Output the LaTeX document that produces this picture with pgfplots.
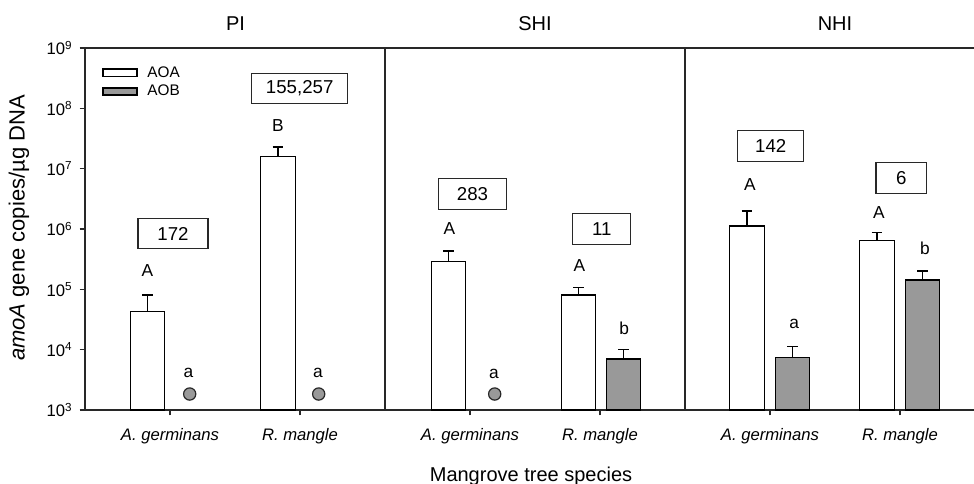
\documentclass[border=0pt]{standalone}
\usepackage{fontspec}
\setmainfont{Liberation Sans}
\usepackage{pgfplots}
\pgfplotsset{compat=1.18}
\definecolor{aobgray}{RGB}{153,153,153}
\definecolor{axgray}{RGB}{40,40,40}
\newcommand{\fs}[1]{\fontsize{#1}{#1}\selectfont}
\begin{document}
\begin{tikzpicture}
\useasboundingbox (0,0) rectangle (730.5pt,363pt);
\begin{axis}[
  at={(63.75pt,55.5pt)}, anchor=south west,
  scale only axis, width=666.75pt, height=271.5pt,
  xmin=0, xmax=8.89,
  ymode=log, ymin=1e3, ymax=1e9, log origin=infty,
  axis x line*=box, axis y line*=left,
  axis line style={line width=1.4pt, axgray},
  clip=false,
  xtick={0.85,2.15,3.85,5.15,6.85,8.15},
  xticklabels={A. germinans, R. mangle, A. germinans, R. mangle, A. germinans, R. mangle},
  xticklabel style={font=\itshape\fs{12.5}, yshift=-6.5pt},
  ytick={1e3,1e4,1e5,1e6,1e7,1e8,1e9},
  yticklabels={10\textsuperscript{3},10\textsuperscript{4},10\textsuperscript{5},10\textsuperscript{6},10\textsuperscript{7},10\textsuperscript{8},10\textsuperscript{9}},
  yticklabel style={font=\fs{12.5}, xshift=-2pt},
  yminorticks=false,
  tick align=outside, xtick pos=bottom, ytick pos=left,
  major tick length=4pt, tick style={line width=1pt, axgray},
  legend style={at={(0.0188,0.9575)}, anchor=north west, draw=none, fill=none,
    font=\fs{11.5}, inner sep=0pt, row sep=0.5pt},
  legend cell align=left,
]
% AOA
\addplot[ybar, bar width=0.345, bar shift=0pt, fill=white, draw=black, line width=1pt,
  legend image code/.code={\draw[fill=white, draw=black, line width=1pt] (0pt,-2.8pt) rectangle (25.5pt,2.8pt);},
  error bars/.cd, y dir=plus, y explicit,
  error bar style={line width=1pt, black},
  error mark options={rotate=90, mark size=4pt, line width=1pt, black}]
coordinates {
  (0.625,4.26e4) +- (0,3.79e4)
  (1.93,1.58e7) +- (0,7.1e6)
  (3.635,2.87e5) +- (0,1.45e5)
  (4.935,8.05e4) +- (0,2.55e4)
  (6.62,1.12e6) +- (0,8.7e5)
  (7.92,6.4e5) +- (0,2.3e5)
};
\addlegendentry{\hspace{5pt}AOA}
% AOB
\addplot[ybar, bar width=0.345, bar shift=0pt, fill=aobgray, draw=black, line width=1pt,
  legend image code/.code={\draw[fill=aobgray, draw=black, line width=1.6pt] (0pt,-2.8pt) rectangle (25.5pt,2.8pt);},
  error bars/.cd, y dir=plus, y explicit,
  error bar style={line width=1pt, black},
  error mark options={rotate=90, mark size=4pt, line width=1pt, black}]
coordinates {
  (5.385,7.0e3) +- (0,3.0e3)
  (7.075,7.46e3) +- (0,3.74e3)
  (8.375,1.43e5) +- (0,5.8e4)
};
\addlegendentry{\hspace{5pt}AOB}
% AOB below detection
\addplot[only marks, mark=*, mark size=4.6pt, mark options={fill=aobgray, draw=axgray, line width=0.9pt}, forget plot]
coordinates {(1.047,1.84e3) (2.337,1.84e3) (4.097,1.84e3)};

% panel dividers
\draw[line width=1.4pt, axgray] (axis cs:3,1e3) -- (axis cs:3,1e9);
\draw[line width=1.4pt, axgray] (axis cs:6,1e3) -- (axis cs:6,1e9);

% titles
\node[font=\fs{15}] at (axis cs:1.505,2.55e9) {PI};
\node[font=\fs{15}] at (axis cs:4.5,2.55e9) {SHI};
\node[font=\fs{15}] at (axis cs:7.5,2.55e9) {NHI};

% ratio boxes
\tikzset{rbox/.style={draw=axgray, line width=0.8pt, minimum height=23pt, inner sep=0pt, font=\fs{14}}}
\node[rbox, minimum width=52.5pt] at (axis cs:0.88,8.4e5) {172};
\node[rbox, minimum width=72pt] at (axis cs:2.147,2.12e8) {155,257};
\node[rbox, minimum width=51pt] at (axis cs:3.875,3.76e6) {283};
\node[rbox, minimum width=43.5pt] at (axis cs:5.168,1.01e6) {11};
\node[rbox, minimum width=49.5pt] at (axis cs:6.858,2.39e7) {142};
\node[rbox, minimum width=38pt] at (axis cs:8.163,7.0e6) {6};

% letters
\tikzset{lt/.style={font=\fs{13}, inner sep=0pt}}
\node[lt] at (axis cs:0.625,2.04e5) {A};
\node[lt] at (axis cs:1.035,4.1e3) {a};
\node[lt] at (axis cs:1.93,5.15e7) {B};
\node[lt] at (axis cs:2.33,4.1e3) {a};
\node[lt] at (axis cs:3.643,1.03e6) {A};
\node[lt] at (axis cs:4.09,3.95e3) {a};
\node[lt] at (axis cs:4.943,2.47e5) {A};
\node[lt] at (axis cs:5.393,2.26e4) {b};
\node[lt] at (axis cs:6.65,5.37e6) {A};
\node[lt] at (axis cs:7.093,2.63e4) {a};
\node[lt] at (axis cs:7.94,1.86e6) {A};
\node[lt] at (axis cs:8.40,4.79e5) {b};

% axis labels
\node[font=\fs{15}, anchor=base] at (axis cs:4.46,64.9) {Mangrove tree species};
\node[font=\fs{16.5}, rotate=90] at (axis cs:-0.66,1.04e6) {\textit{amoA} gene copies/µg DNA};
\end{axis}
\end{tikzpicture}
\end{document}
